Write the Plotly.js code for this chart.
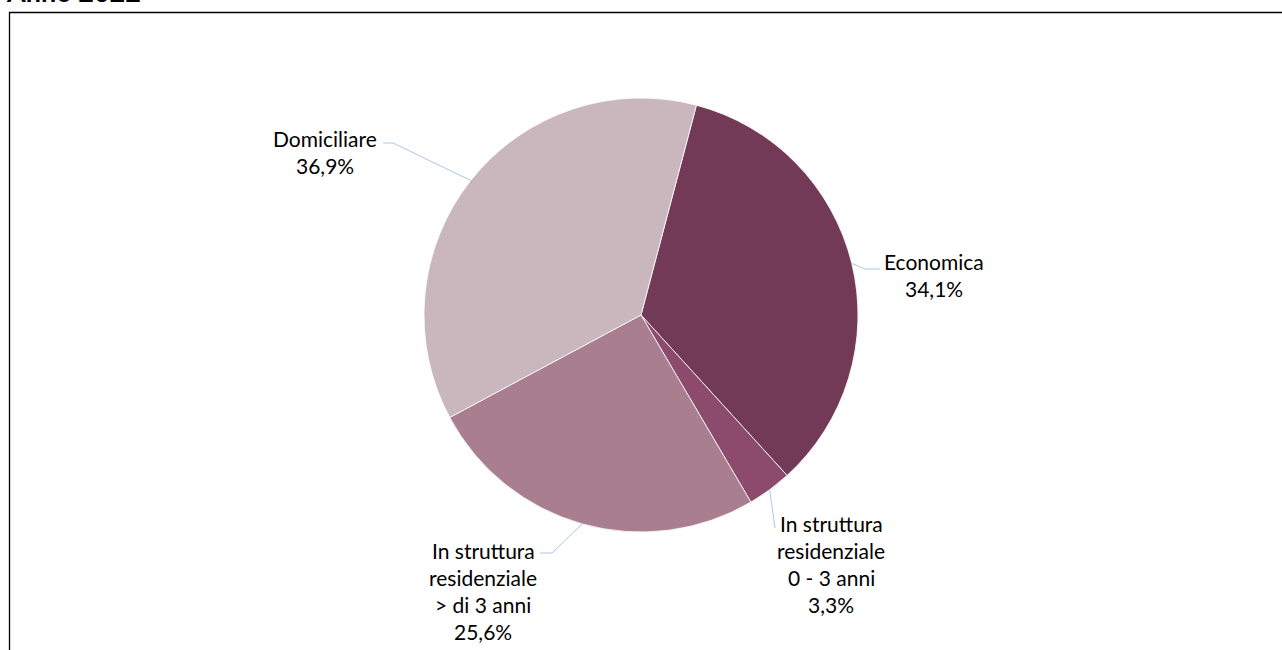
<!DOCTYPE html>
<html>
<head>
<meta charset="utf-8">
<script src="https://cdn.plot.ly/plotly-3.0.1.min.js"></script>
<style>html,body{margin:0;padding:0;background:#fff;}#chart{width:1282px;height:650px;}</style>
</head>
<body>
<div id="chart"></div>
<script>
// ---- data ----
var categories = ['Economica', 'In struttura residenziale 0 - 3 anni', 'In struttura residenziale > di 3 anni', 'Domiciliare'];
var values = [34.1, 3.3, 25.6, 36.9];
var labelLines = [
  ['Economica', '34,1%'],
  ['In struttura', 'residenziale', '0 - 3 anni', '3,3%'],
  ['In struttura', 'residenziale', '> di 3 anni', '25,6%'],
  ['Domiciliare', '36,9%']
];
var titleText = 'Anno 2022';

// ---- styles ----
var colors = ['#733A58', '#8C4A6D', '#A97E8F', '#CAB6BD'];
var W = 1282, H = 650;
var cx = 641, cy = 315, R = 217;
var rotationDeg = 14.8;
var fontFam = 'Lato, "Open Sans", sans-serif';
var fontSize = 21;
var lineGap = 27;
// label layout (pixels): text center x, first line y, leader elbow and end
var labelStyle = [
  {x: 934, y: 261, elbow: [865, 269], end: [880, 269]},
  {x: 831, y: 523, elbow: null, end: [775, 528]},
  {x: 483, y: 550, elbow: [552, 553], end: [540, 553]},
  {x: 325, y: 138, elbow: [393, 143], end: [383, 143]}
];
var leaderColor = '#A9C8E8';

function px(x) { return x / W; }
function py(y) { return 1 - y / H; }

var trace = {
  type: 'pie',
  labels: categories,
  values: values,
  sort: false,
  direction: 'clockwise',
  rotation: rotationDeg,
  textinfo: 'none',
  hoverinfo: 'label+percent',
  marker: {colors: colors, line: {color: '#ffffff', width: 0.8}},
  domain: {x: [px(cx - R), px(cx + R)], y: [py(cy + R), py(cy - R)]},
  showlegend: false
};

var annotations = [];
var shapes = [];
var total = values.reduce(function (a, b) { return a + b; }, 0);
var acc = 0;
for (var i = 0; i < values.length; i++) {
  var midFrac = (acc + values[i] / 2) / total;
  acc += values[i];
  var ang = (rotationDeg + midFrac * 360) * Math.PI / 180;
  var ax = cx + R * Math.sin(ang), ay = cy - R * Math.cos(ang);
  var st = labelStyle[i];
  var path = 'M' + px(ax) + ',' + py(ay);
  if (st.elbow) path += ' L' + px(st.elbow[0]) + ',' + py(st.elbow[1]);
  path += ' L' + px(st.end[0]) + ',' + py(st.end[1]);
  shapes.push({type: 'path', xref: 'paper', yref: 'paper', path: path,
    line: {color: leaderColor, width: 1}});
  for (var j = 0; j < labelLines[i].length; j++) {
    annotations.push({
      xref: 'paper', yref: 'paper', x: px(st.x), y: py(st.y + j * lineGap),
      xanchor: 'center', yanchor: 'middle', showarrow: false,
      text: labelLines[i][j], font: {family: fontFam, size: fontSize, color: '#000'}
    });
  }
}
annotations.push({
  xref: 'paper', yref: 'paper', x: px(4), y: py(-9), xanchor: 'left', yanchor: 'middle',
  showarrow: false, text: '<b>' + titleText + '</b>',
  font: {family: fontFam, size: 27, color: '#000'}
});
shapes.push({type: 'rect', xref: 'paper', yref: 'paper',
  x0: px(9.5), x1: px(W + 20), y0: py(H + 20), y1: py(12.5),
  line: {color: '#000', width: 1.3}, fillcolor: 'rgba(0,0,0,0)'});

var layout = {
  width: W, height: H,
  margin: {l: 0, r: 0, t: 0, b: 0},
  paper_bgcolor: '#fff', plot_bgcolor: '#fff',
  showlegend: false,
  annotations: annotations,
  shapes: shapes
};
Plotly.newPlot('chart', [trace], layout, {displayModeBar: false, staticPlot: true});
</script>
</body>
</html>
